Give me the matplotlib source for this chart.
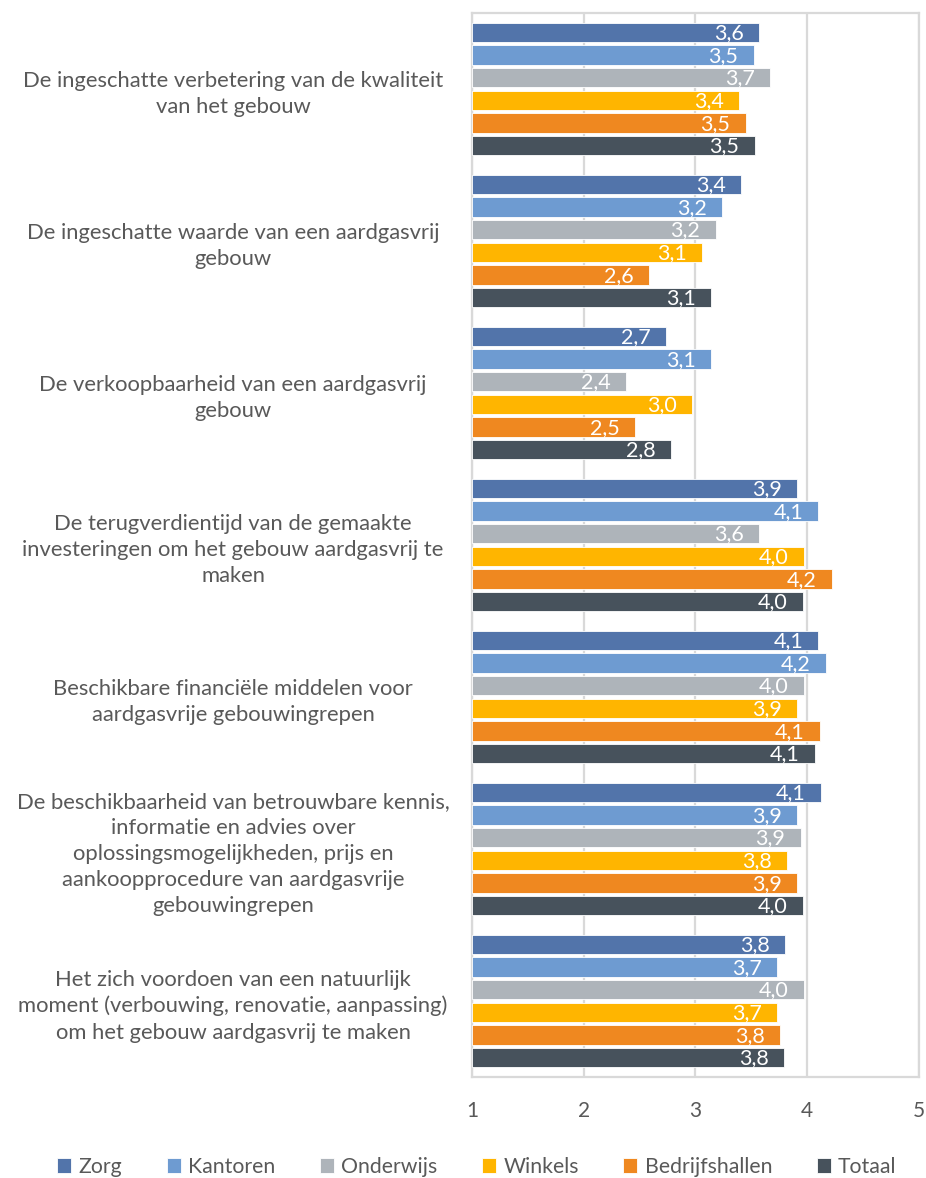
import matplotlib
matplotlib.use("Agg")
import matplotlib.pyplot as plt
import numpy as np

plt.rcParams['font.family'] = ['Lato', 'DejaVu Sans']

categories = [
    "De ingeschatte verbetering van de kwaliteit\nvan het gebouw",
    "De ingeschatte waarde van een aardgasvrij\ngebouw",
    "De verkoopbaarheid van een aardgasvrij\ngebouw",
    "De terugverdientijd van de gemaakte\ninvesteringen om het gebouw aardgasvrij te\nmaken",
    "Beschikbare financiële middelen voor\naardgasvrije gebouwingrepen",
    "De beschikbaarheid van betrouwbare kennis,\ninformatie en advies over\noplossingsmogelijkheden, prijs en\naankoopprocedure van aardgasvrije\ngebouwingrepen",
    "Het zich voordoen van een natuurlijk\nmoment (verbouwing, renovatie, aanpassing)\nom het gebouw aardgasvrij te maken",
]

series_names = ["Zorg", "Kantoren", "Onderwijs", "Winkels", "Bedrijfshallen", "Totaal"]

zorg           = [3.57, 3.41, 2.74, 3.91, 4.10, 4.12, 3.80]
kantoren       = [3.52, 3.24, 3.14, 4.10, 4.17, 3.91, 3.73]
onderwijs      = [3.67, 3.18, 2.38, 3.57, 3.97, 3.94, 3.97]
winkels        = [3.39, 3.06, 2.97, 3.97, 3.91, 3.82, 3.73]
bedrijfshallen = [3.45, 2.58, 2.46, 4.22, 4.11, 3.91, 3.76]
totaal         = [3.53, 3.14, 2.78, 3.96, 4.07, 3.96, 3.79]

series_values = [zorg, kantoren, onderwijs, winkels, bedrijfshallen, totaal]
colors = ["#5274AA", "#6E9BD1", "#AEB4BA", "#FFB500", "#EF8820", "#47525C"]

xticks = [1, 2, 3, 4, 5]
xtick_labels = ["1", "2", "3", "4", "5"]

fig = plt.figure(figsize=(9.26, 11.78), dpi=100)
ax = fig.add_axes([0.5097, 0.0857, 0.9924 - 0.5097, 0.989 - 0.0857])

y = np.arange(len(categories))
step = 0.149
height = 0.127
grid_c = "#D9D9D9"
text_c = "#595959"

for j, (name, vals, c) in enumerate(zip(series_names, series_values, colors)):
    pos = y + (j - 2.5) * step
    widths = [v - 1 for v in vals]
    bars = ax.barh(pos, widths, left=1, height=height, color=c, label=name,
                   edgecolor="white", linewidth=0.6, zorder=3)
    for b, v in zip(bars, vals):
        ax.annotate(f"{v:.1f}".replace(".", ","),
                    xy=(b.get_x() + b.get_width(), b.get_y() + b.get_height() / 2),
                    xytext=(-11, -0.5), textcoords="offset points",
                    ha="right", va="center", color="white", fontsize=15.5, zorder=4)

ax.set_xlim(1, 5)
ax.set_ylim(len(categories) - 0.5, -0.5)
ax.set_xticks(xticks)
ax.set_xticklabels(xtick_labels, color=text_c, fontsize=15)
ax.set_yticks(y)
ax.set_yticklabels(categories, ha="center", multialignment="center",
                   color=text_c, fontsize=15.8, linespacing=1.38)
ax.tick_params(axis="y", length=0, pad=172)
ax.tick_params(axis="x", length=0, pad=17)

ax.grid(axis="x", color=grid_c, linewidth=1.6, zorder=0)
for s in ax.spines.values():
    s.set_color(grid_c)
    s.set_linewidth(1.6)

handles, labels = ax.get_legend_handles_labels()
fig.legend(handles, labels, loc="center", bbox_to_anchor=(0.515, 0.0095), ncol=6,
           frameon=False, fontsize=15.3, handlelength=0.65, handleheight=0.75,
           handletextpad=0.35, columnspacing=2.1, labelcolor=text_c)

fig.savefig("out.png", dpi=100)
